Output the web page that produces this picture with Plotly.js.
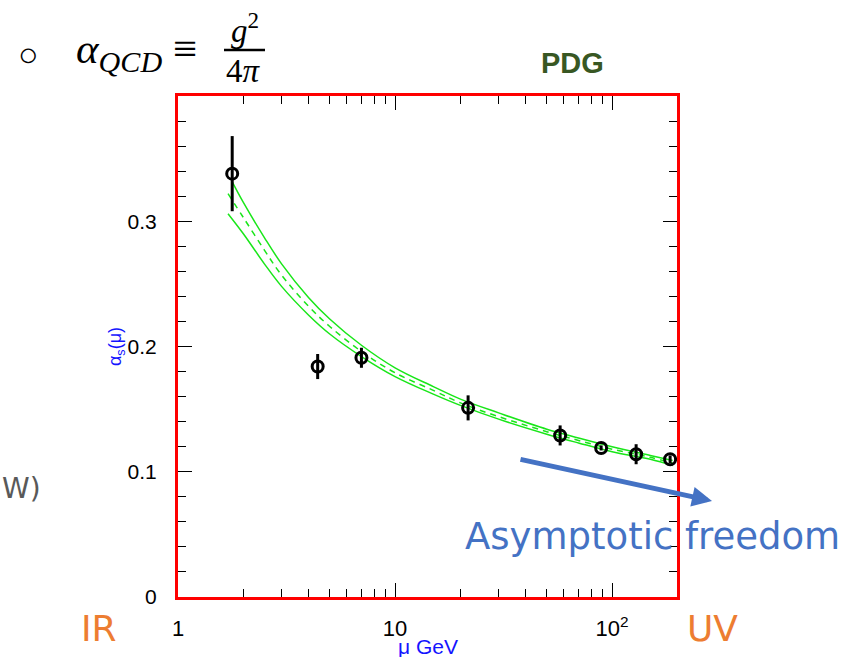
<!DOCTYPE html>
<html><head><meta charset="utf-8">
<script src="https://cdn.plot.ly/plotly-3.0.1.min.js"></script>
<style>html,body{margin:0;padding:0;background:#fff}#chart{width:847px;height:657px}</style>
</head><body><div id="chart"></div>
<script>
// Measurements (μ in GeV, α_s)
const muData   = [1.777, 4.4, 7.0, 21.7, 57.6, 89.0, 129.0, 185.0];
const alphaData= [0.338, 0.184, 0.191, 0.151, 0.129, 0.119, 0.114, 0.110];
const alphaErr = [0.030, 0.010, 0.008, 0.010, 0.008, 0.002, 0.008, 0.003];

// Theory band
const muUpper    = [1.77, 2, 2.5, 3, 4, 5, 7, 10, 15, 20, 30, 50, 70, 100, 150, 190];
const alphaUpper = [0.332, 0.315, 0.287, 0.266, 0.239, 0.222, 0.201, 0.183, 0.168, 0.158, 0.147, 0.134, 0.127, 0.120, 0.113, 0.109];
const muCentral    = [1.70, 2, 2.5, 3, 4, 5, 7, 10, 15, 20, 30, 50, 70, 100, 150, 190];
const alphaCentral = [0.322, 0.303, 0.277, 0.257, 0.232, 0.216, 0.196, 0.179, 0.165, 0.155, 0.144, 0.132, 0.125, 0.118, 0.1115, 0.107];
const muLower    = [1.70, 2, 2.5, 3, 4, 5, 7, 10, 15, 20, 30, 50, 70, 100, 150, 190];
const alphaLower = [0.306, 0.290, 0.266, 0.248, 0.225, 0.210, 0.192, 0.176, 0.162, 0.153, 0.142, 0.130, 0.123, 0.116, 0.110, 0.105];

const xTickVals = [1, 10, 100];
const xTickText = ['1', '10', '10<sup>2</sup>'];
const yTickVals = [0, 0.1, 0.2, 0.3];
const yTickText = ['0', '0.1', '0.2', '0.3'];
const xTitle = 'μ GeV';

const L = 178, R = 677, T = 96, B = 597, W = 847, H = 657;
const px = x => (x - L) / (R - L);
const py = y => (B - y) / (B - T);
const green = '#19e619';

const traces = [
  {x: muUpper, y: alphaUpper, mode: 'lines', line: {color: green, width: 1.5, shape: 'spline'}, hoverinfo: 'skip'},
  {x: muCentral, y: alphaCentral, mode: 'lines', line: {color: green, width: 1.5, dash: '6px,5px', shape: 'spline'}, hoverinfo: 'skip'},
  {x: muLower, y: alphaLower, mode: 'lines', line: {color: green, width: 1.5, shape: 'spline'}, hoverinfo: 'skip'},
  {x: muData, y: alphaData, mode: 'markers', type: 'scatter',
   marker: {symbol: 'circle-open', size: 11, color: '#000', line: {width: 3, color: '#000'}},
   error_y: {type: 'data', array: alphaErr, visible: true, color: '#000', thickness: 3, width: 0}}
];

const serif = 'Liberation Serif, DejaVu Serif, serif';
const sans = 'Liberation Sans, Arial, sans-serif';
const ann = [
  {text: '○', x: px(28), y: py(54), font: {family: sans, size: 34, color: '#000'}},
  {text: '<i>α</i><sub><i>QCD</i></sub> ≡', x: px(74), y: py(52), xanchor: 'left', font: {family: serif, size: 43, color: '#000'}},
  {text: '<i>g</i><sup>2</sup>', x: px(245), y: py(28), font: {family: serif, size: 33, color: '#000'}},
  {text: '4<i>π</i>', x: px(243), y: py(71), font: {family: serif, size: 33, color: '#000'}},
  {text: '<b>PDG</b>', x: px(572), y: py(63), font: {family: sans, size: 29, color: '#385723'}},
  {text: 'W)', x: px(0), y: py(488), xanchor: 'left', font: {family: 'DejaVu Sans, sans-serif', size: 28, color: '#595959'}},
  {text: 'IR', x: px(99), y: py(628), font: {family: 'DejaVu Sans, sans-serif', size: 36, color: '#ED7D31'}},
  {text: 'UV', x: px(712), y: py(628), font: {family: 'DejaVu Sans, sans-serif', size: 36, color: '#ED7D31'}},
  {text: 'Asymptotic freedom', x: px(652), y: py(536), font: {family: 'DejaVu Sans, sans-serif', size: 37, color: '#4472C4'}},
  {text: xTitle, x: px(428), y: py(646), font: {family: sans, size: 21, color: '#1414ff'}},
  {text: '', x: px(712), y: py(501), showarrow: true, axref: 'pixel', ayref: 'pixel', ax: -193, ay: -42,
   arrowhead: 2, arrowsize: 0.8, arrowwidth: 5, arrowcolor: '#4472C4'}
].map(a => Object.assign({xref: 'paper', yref: 'paper', showarrow: false, xanchor: 'center', yanchor: 'middle'}, a));

const layout = {
  width: W, height: H,
  margin: {l: L, r: W - R, t: T, b: H - B, pad: 0},
  paper_bgcolor: '#fff', plot_bgcolor: '#fff',
  showlegend: false,
  font: {family: sans, color: '#000', size: 18},
  xaxis: {
    type: 'log', range: [0, Math.log10(199)],
    tickvals: xTickVals, ticktext: xTickText,
    ticks: 'inside', ticklen: 14, tickwidth: 1, tickcolor: '#000',
    minor: {ticks: 'inside', ticklen: 8, tickcolor: '#000', tickwidth: 1, tickvals: [2,3,4,5,6,7,8,9,20,30,40,50,60,70,80,90]},
    showline: true, linecolor: '#ff0000', linewidth: 3, mirror: 'allticks',
    showgrid: false, zeroline: false,
    ticklabelstandoff: 10,
    tickfont: {family: sans, size: 22, color: '#000'}
  },
  yaxis: {
    range: [0, 0.4],
    tickvals: yTickVals, ticktext: yTickText,
    ticks: 'inside', ticklen: 14, tickwidth: 1, tickcolor: '#000',
    minor: {ticks: 'inside', ticklen: 8, tickcolor: '#000', tickwidth: 1, dtick: 0.02},
    showline: true, linecolor: '#ff0000', linewidth: 3, mirror: 'allticks',
    showgrid: false, zeroline: false,
    ticklabelstandoff: 14,
    tickfont: {family: sans, size: 21, color: '#000'},
    title: {text: 'α<sub>s</sub>(μ)', font: {family: sans, size: 18, color: '#1414ff'}, standoff: 2}
  },
  annotations: ann,
  shapes: [
    {type: 'line', xref: 'paper', yref: 'paper', x0: px(224), x1: px(265), y0: py(50), y1: py(50), line: {color: '#000', width: 2.5}}
  ]
};

Plotly.newPlot('chart', traces, layout, {displayModeBar: false, staticPlot: true});
</script></body></html>
